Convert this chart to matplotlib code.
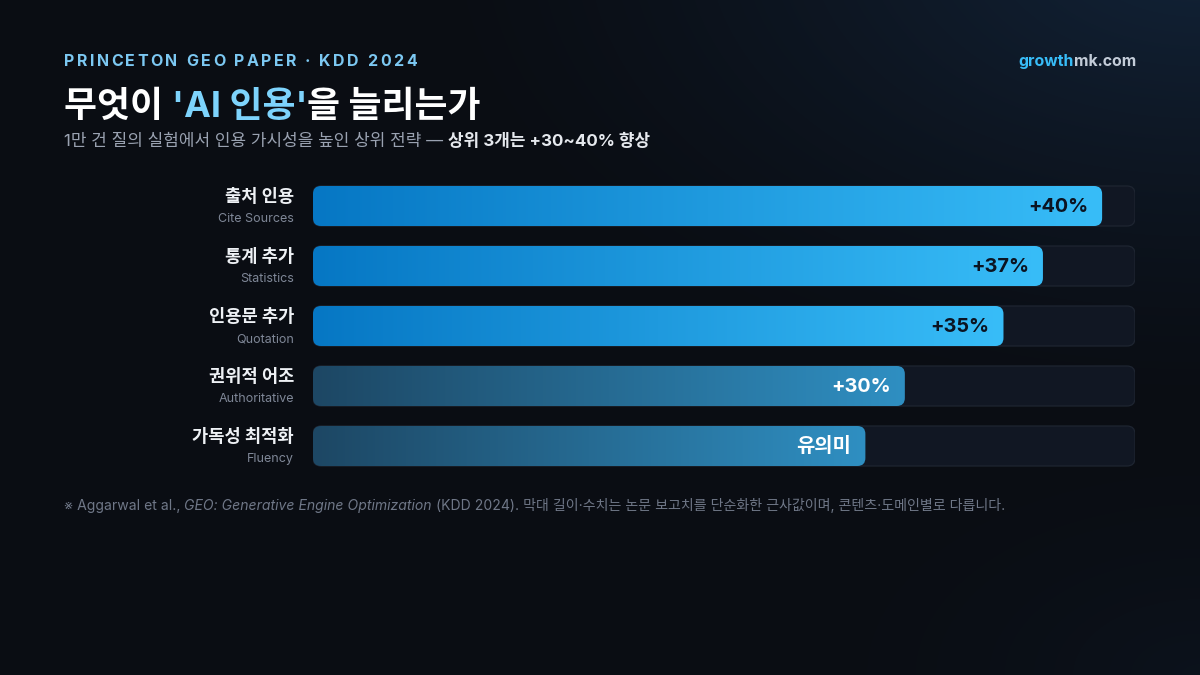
import matplotlib
matplotlib.use("Agg")
import matplotlib.pyplot as plt
import numpy as np
from matplotlib.patches import FancyBboxPatch
from matplotlib.colors import to_rgb

# data
labels_ko = ['출처 인용', '통계 추가', '인용문 추가', '권위적 어조', '가독성 최적화']
labels_en = ['Cite Sources', 'Statistics', 'Quotation', 'Authoritative', 'Fluency']
values = [40, 37, 35, 30, 28]
value_text = ['+40%', '+37%', '+35%', '+30%', '유의미']
strong = [True, True, True, False, False]
vmax = 40 / 0.96

KR = ['Inter', 'Noto Sans CJK KR', 'DejaVu Sans']
plt.rcParams['font.family'] = KR

W, H = 1200, 675
fig = plt.figure(figsize=(12, 6.75), dpi=100)

# background
bg = fig.add_axes([0, 0, 1, 1])
bg.set_xlim(0, W)
bg.set_ylim(H, 0)
bg.axis('off')
yy, xx = np.mgrid[0:H, 0:W]
base = np.array(to_rgb('#0a0d13'))
glow = np.array(to_rgb('#142840'))
d1 = np.hypot((xx - W) / 800, (yy + 60) / 480)
g1 = np.clip(1 - d1, 0, 1) ** 1.4 * 0.85
d2 = np.hypot((xx - W) / 500, (yy - H) / 300)
g2 = np.clip(1 - d2, 0, 1) ** 2 * 0.2
g = np.clip(g1 + g2, 0, 1)[..., None]
img = base * (1 - g) + glow * g
bg.imshow(img, extent=[0, W, H, 0], aspect='auto', zorder=0)

renderer = fig.canvas.get_renderer()


def run_text(x, y, parts, ha='left', va='baseline'):
    # parts: list of (text, kwargs); draw one after another
    items = []
    cx = x
    for s, kw in parts:
        t = bg.text(cx, y, s, va=va, ha='left', **kw)
        w = t.get_window_extent(renderer).width
        items.append(t)
        cx += w
    if ha == 'right':
        total = cx - x
        for t in items:
            px, py = t.get_position()
            t.set_position((px - total, py))
    return cx


def spaced_text(x, y, s, spacing, **kw):
    cx = x
    for ch in s:
        t = bg.text(cx, y, ch, va='baseline', ha='left', **kw)
        cx += t.get_window_extent(renderer).width + spacing


# header
spaced_text(64, 66, 'PRINCETON GEO PAPER · KDD 2024', 2.5,
            color='#7cc8f2', fontsize=11.5, fontweight='bold')
tkw = dict(fontsize=25.8, fontweight='bold')
run_text(64, 117, [("무엇이 ", dict(color='white', **tkw)),
                   ("'AI 인용'", dict(color='#7dd3fc', **tkw)),
                   ("을 늘리는가", dict(color='white', **tkw))])
run_text(64, 146, [("1만 건 질의 실험에서 인용 가시성을 높인 상위 전략 — ",
                    dict(color='#9aa2b1', fontsize=12.2)),
                   ("상위 3개는 +30~40% 향상",
                    dict(color='#e6e9ee', fontsize=12.2, fontweight='bold'))])
run_text(1136, 66, [("growth", dict(color='#38bdf8', fontsize=11.4, fontweight='bold')),
                    ("mk.com", dict(color='#c3ccd8', fontsize=11.4, fontweight='bold'))],
         ha='right')

# bars axes
x0, x1 = 313, 1135
row_h, bar_h = 60, 40
top = 186 - (row_h - bar_h) / 2
n = len(values)
ax = fig.add_axes([x0 / W, 1 - (top + n * row_h) / H, (x1 - x0) / W, n * row_h / H])
ax.set_xlim(0, vmax)
ax.set_ylim(n - 0.5, -0.5)
ax.axis('off')

px_x = vmax / (x1 - x0)
px_y = 1 / row_h
rad = 8 * px_x
asp = px_y / px_x
bh = bar_h / row_h

for i, v in enumerate(values):
    track = FancyBboxPatch((0, i - bh / 2), vmax, bh,
                           boxstyle=f'round,pad=0,rounding_size={rad}',
                           mutation_aspect=asp, facecolor='#111723',
                           edgecolor='#1e2531', linewidth=0.9, zorder=1)
    ax.add_patch(track)
    bar = FancyBboxPatch((0, i - bh / 2), v, bh,
                         boxstyle=f'round,pad=0,rounding_size={rad}',
                         mutation_aspect=asp, facecolor='none',
                         edgecolor='none', zorder=2)
    ax.add_patch(bar)
    if strong[i]:
        c0, c1 = np.array(to_rgb('#0677c4')), np.array(to_rgb('#38bdf8'))
    else:
        c0, c1 = np.array(to_rgb('#1d4764')), np.array(to_rgb('#2f8fc2'))
    t = np.linspace(0, 1, 256)[None, :, None]
    grad = c0 * (1 - t) + c1 * t
    im = ax.imshow(grad, extent=[0, v, i + bh / 2, i - bh / 2],
                   aspect='auto', zorder=2, interpolation='bilinear')
    im.set_clip_path(bar)
    ax.text(v - 14 * px_x, i + 0.01, value_text[i], ha='right', va='center',
            fontsize=14.3, fontweight='bold',
            color='#0b1422' if strong[i] else 'white', zorder=3)
    ax.text(-19 * px_x, i - 0.14, labels_ko[i], ha='right', va='center',
            fontsize=12.7, fontweight='bold', color='#eef1f5')
    ax.text(-19 * px_x, i + 0.22, labels_en[i], ha='right', va='center',
            fontsize=9, color='#7f8797')

ax.set_xlim(0, vmax)
ax.set_ylim(n - 0.5, -0.5)

# footer
fs = 10.1
run_text(64, 510, [("※ Aggarwal et al., ", dict(color='#6f7787', fontsize=fs)),
                   ("GEO: Generative Engine Optimization",
                    dict(color='#6f7787', fontsize=fs, fontstyle='italic')),
                   (" (KDD 2024). 막대 길이·수치는 논문 보고치를 단순화한 근사값이며, 콘텐츠·도메인별로 다릅니다.",
                    dict(color='#6f7787', fontsize=fs))])

fig.savefig('out.png', dpi=100)
